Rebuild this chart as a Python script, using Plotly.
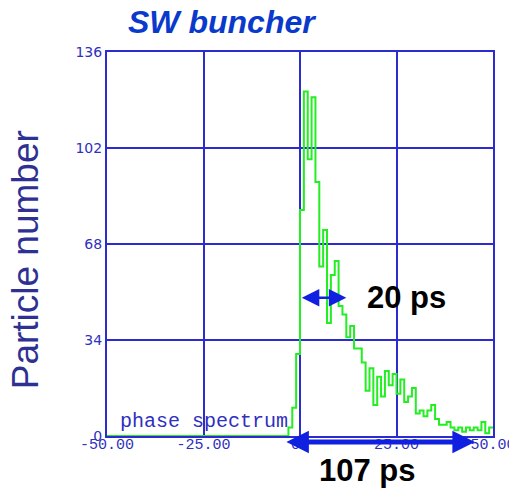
import plotly.graph_objects as go

# bin edges of the phase spectrum (deg) and particle counts per bin
phase_edges = list(range(-50, 51))
counts = [
    0, 0, 0, 0, 0, 0, 0, 0, 0, 0,
    0, 0, 0, 0, 0, 0, 0, 0, 0, 0,
    0, 0, 0, 0, 0, 0, 0, 0, 0, 0,
    0, 0, 0, 0, 0, 0, 0, 0, 0, 0,
    0, 0, 0, 0, 0, 0, 0, 3, 10, 29,
    80, 122, 98, 120, 90, 60, 73, 40, 57, 62,
    46, 43, 35, 39, 31, 31, 26, 16, 24, 11,
    21, 14, 23, 18, 22, 15, 20, 12, 14, 17,
    8, 9, 7, 9, 11, 6, 4, 4, 5, 3,
    2, 3, 1.5, 3, 2, 3, 2, 5, 1, 3,
]
x_ticks = [-50, -25, 0, 25, 50]
x_tick_text = ["-50.00", "-25.00", "0.", "25.00", "50.00"]
y_ticks = [0, 34, 68, 102, 136]
y_tick_text = ["0", "34", "68", "102", "136"]

grid_blue = "#2c2cce"
label_blue = "#2f2fc0"
arrow_blue = "#1020e0"

fig = go.Figure(
    go.Scatter(
        x=phase_edges,
        y=counts + [counts[-1]],
        mode="lines",
        line=dict(color="#22ee22", width=2, shape="hv"),
        hoverinfo="skip",
    )
)

# the page body adds an 8px offset, so the figure is laid out 8px smaller
fig.update_layout(
    width=509,
    height=483,
    margin=dict(l=99, r=24, t=44, b=55, autoexpand=False),
    paper_bgcolor="white",
    plot_bgcolor="white",
    showlegend=False,
    xaxis=dict(
        range=[-50, 50],
        tickvals=x_ticks,
        ticktext=x_tick_text,
        showgrid=True,
        gridcolor=grid_blue,
        gridwidth=2,
        showline=True,
        mirror=True,
        linecolor=grid_blue,
        linewidth=2,
        zeroline=False,
        ticks="",
        ticklabelstandoff=-7,
        tickfont=dict(family="Liberation Mono", size=15, color=label_blue),
        layer="below traces",
    ),
    yaxis=dict(
        range=[0, 136],
        tickvals=y_ticks,
        ticktext=y_tick_text,
        showgrid=True,
        gridcolor=grid_blue,
        gridwidth=2,
        showline=True,
        mirror=True,
        linecolor=grid_blue,
        linewidth=2,
        zeroline=False,
        ticks="",
        tickfont=dict(family="DejaVu Sans", size=14, color=label_blue),
        layer="below traces",
    ),
)

annotations = [
    dict(text="<b><i>SW buncher</i></b>", xref="paper", yref="paper",
         x=0.298, y=1.078, xanchor="center", yanchor="middle", showarrow=False,
         font=dict(family="Liberation Sans", size=32, color="#0a3acc")),
    dict(text="Particle number", xref="paper", yref="paper",
         x=-0.212, y=0.458, xanchor="center", yanchor="middle", showarrow=False,
         textangle=-90,
         font=dict(family="Liberation Sans", size=37, color="#2e3192")),
    dict(text="phase spectrum", xref="x", yref="y",
         x=-47.2, y=5, xanchor="left", yanchor="middle", showarrow=False,
         font=dict(family="Liberation Mono", size=20, color=label_blue)),
    dict(text="<b>20 ps</b>", xref="x", yref="y",
         x=27.7, y=49.2, xanchor="center", yanchor="middle", showarrow=False,
         font=dict(family="Liberation Sans", size=31, color="black")),
    dict(text="<b>107 ps</b>", xref="paper", yref="paper",
         x=0.674, y=-0.091, xanchor="center", yanchor="middle", showarrow=False,
         font=dict(family="Liberation Sans", size=31, color="black")),
    # 20 ps double arrow (head at right, tail offset in pixels)
    dict(text="", xref="x", yref="y",
         x=12, y=49, ax=-46, ay=0, showarrow=True,
         arrowhead=2, startarrowhead=2, arrowside="end+start",
         arrowwidth=2.5, arrowsize=1.4, startarrowsize=1.4, arrowcolor=arrow_blue),
    # 107 ps double arrow, below the axis
    dict(text="", xref="paper", yref="paper",
         x=0.953, y=-0.0156, ax=-190, ay=0, showarrow=True,
         arrowhead=2, startarrowhead=2, arrowside="end+start",
         arrowwidth=5, arrowsize=0.9, startarrowsize=0.9, arrowcolor=arrow_blue),
]
fig.update_layout(annotations=annotations)

fig.write_html("out.html")
